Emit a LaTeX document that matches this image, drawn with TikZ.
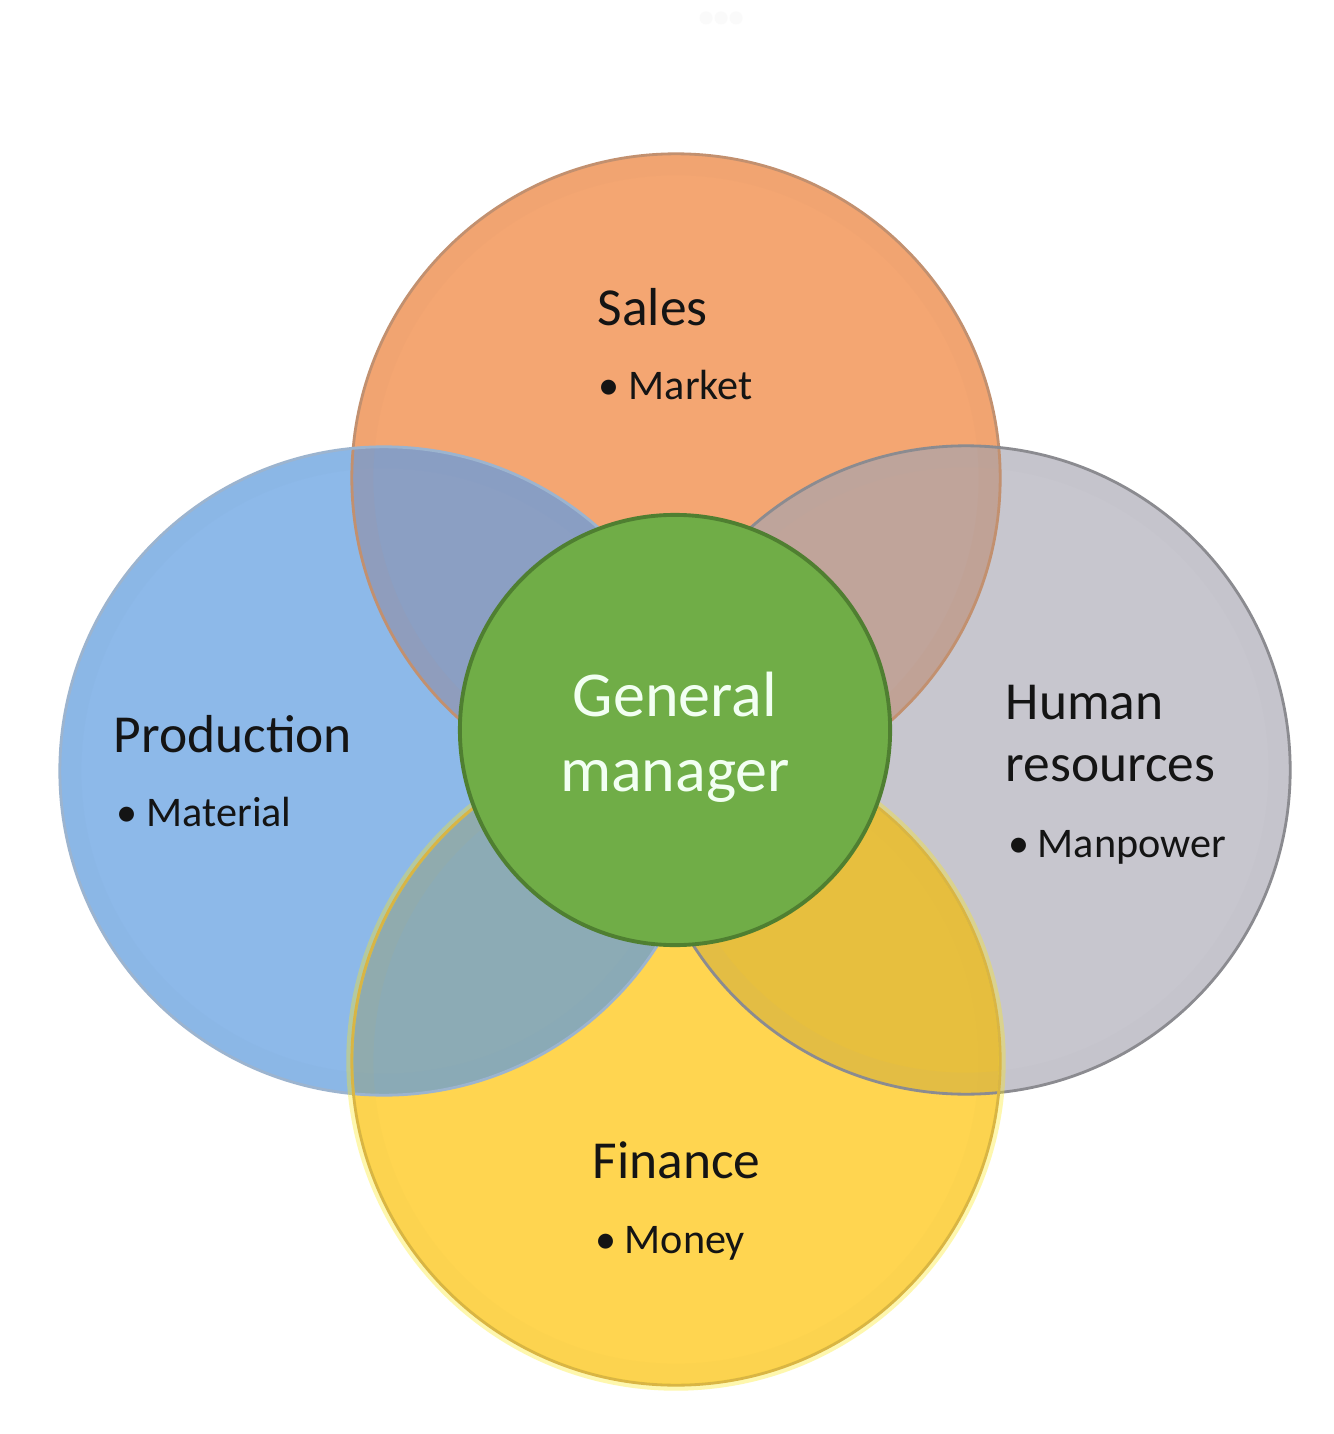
\documentclass[tikz,border=0pt]{standalone}
\usepackage{fontspec}
\setmainfont{Carlito}
\definecolor{salesC}{HTML}{F4A672}
\definecolor{prodC}{HTML}{8DB9E9}
\definecolor{hrC}{HTML}{C7C6CE}
\definecolor{finC}{HTML}{FFD550}
\definecolor{gmC}{HTML}{70AD47}
\definecolor{gmB}{HTML}{4F7F31}
\definecolor{ovSP}{HTML}{8B9FC3}
\definecolor{ovSH}{HTML}{C0A49A}
\definecolor{ovPF}{HTML}{8CABB5}
\definecolor{ovHF}{HTML}{E7BF3E}
\definecolor{txtC}{HTML}{141414}
\begin{document}
\begin{tikzpicture}[x=0.01cm,y=-0.01cm,
  bigcirc/.style={circle, minimum size=6.48cm, inner sep=0pt},
  head/.style={anchor=base west, inner sep=0pt, text=txtC, font=\fontsize{15.2}{17.5}\selectfont},
  item/.style={anchor=base west, inner sep=0pt, text=txtC, font=\fontsize{12}{14}\selectfont},
  rim/.style={line width=0.8pt}]
\useasboundingbox (0,0) rectangle (1334,1434);
\fill[white] (0,0) rectangle (1334,1434);
% faint dots at top
\foreach \dx in {706,721,736} \fill[black!2] (\dx,18) circle[radius=0.065cm];
% big circles
\node[bigcirc, fill=salesC] (sales) at (676,478) {};
\node[bigcirc, fill=prodC] (prod) at (384,771) {};
\node[bigcirc, fill=hrC] (hr) at (966,770) {};
\node[bigcirc, fill=finC] (fin) at (676,1061) {};
% overlaps
\begin{scope}
  \clip (sales.center) circle[radius=3.24cm];
  \fill[ovSP] (prod.center) circle[radius=3.24cm];
  \fill[ovSH] (hr.center) circle[radius=3.24cm];
\end{scope}
\begin{scope}
  \clip (fin.center) circle[radius=3.24cm];
  \fill[ovPF] (prod.center) circle[radius=3.24cm];
  \fill[ovHF] (hr.center) circle[radius=3.24cm];
\end{scope}
% subtle inner shading rings
\foreach \n/\c in {sales/salesC, prod/prodC, hr/hrC, fin/finC}{
  \draw[\c!85!black, opacity=0.06, line width=6pt] (\n.center) circle[radius=3.13cm];
}
% rims
\draw[rim, salesC!75!black!85] (sales.center) circle[radius=3.24cm];
\draw[rim, prodC!80!black!70] (prod.center) circle[radius=3.24cm];
\draw[rim, hrC!70!black] (hr.center) circle[radius=3.24cm];
\begin{scope}
  \clip (-100,-100) rectangle (1434,1534) (fin.center) circle[radius=3.24cm];
\end{scope}
\draw[yellow!70!finC, line width=2pt, opacity=0.35] (fin.center) circle[radius=3.26cm];
\draw[rim, finC!85!black] (fin.center) circle[radius=3.24cm];
% centre circle
\node[circle, minimum size=4.30cm, inner sep=0pt, fill=gmC, draw=gmB, line width=1.1pt] (gm) at (675,730) {};
\node[align=center, inner sep=0pt, text=white!95!green, font=\fontsize{18.2}{21.3}\selectfont] (gmT) at (675,737) {General\\manager};
% labels
\node[head] (salesT) at (597,326) {Sales};
\node[item] (salesI) at (598,400) {\makebox[0.30cm][l]{\textbullet}Market};
\node[head] (prodT) at (113,752) {Production};
\node[item] (prodI) at (116,826) {\makebox[0.30cm][l]{\textbullet}Material};
\node[head, align=left] (hrT) at (1005,781) {Human\\resources};
\node[item] (hrI) at (1008,857) {\makebox[0.29cm][l]{\textbullet}Manpower};
\node[head] (finT) at (592,1178) {Finance};
\node[item] (finI) at (595,1253) {\makebox[0.29cm][l]{\textbullet}Money};
\end{tikzpicture}
\end{document}
